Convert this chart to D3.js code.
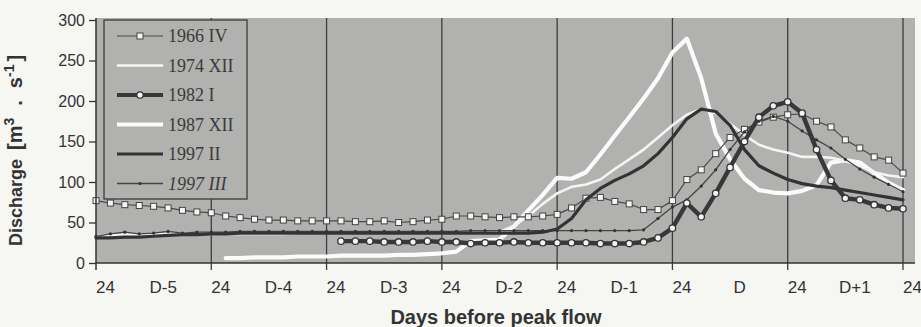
<!DOCTYPE html>
<html>
<head>
<meta charset="utf-8">
<script src="https://cdn.jsdelivr.net/npm/d3@7"></script>
<style>
  body { margin: 0; background: #f6f6f3; }
  svg { display: block; }
</style>
</head>
<body>
<div id="chart"></div>
<script>
// hours counted from the "24" mark at the left edge (end of D-6)
const hours = [0,3,6,9,12,15,18,21,24,27,30,33,36,39,42,45,48,51,54,57,60,63,66,69,72,75,78,81,84,87,90,93,96,99,102,105,108,111,114,117,120,123,126,129,132,135,138,141,144,147,150,153,156,159,162,165,168];

const s1966IV = [77,74,72,71,70,68,65,63,62,58,56,54,53,53,52,52,52,52,51,51,52,50,51,53,54,58,58,57,56,57,57,58,60,68,80,81,76,73,66,66,77,103,115,135,155,165,174,180,183,184,175,168,152,142,131,127,111];
const s1974XII = [33,34,35,35,35,36,36,36,36,36,36,36,36,36,37,37,37,37,37,37,37,37,37,37,37,37,37,37,38,46,58,73,86,94,97,103,116,128,140,155,170,183,190,185,172,158,146,140,136,131,131,130,126,120,112,108,106];
const s1982I = [null,null,null,null,null,null,null,null,null,null,null,null,null,null,null,null,null,27,27,27,26,26,26,27,26,26,24,25,25,26,25,25,25,25,25,24,24,24,26,31,43,74,57,86,118,150,180,194,199,185,140,102,80,78,72,68,67];
const s1987XII = [null,null,null,null,null,null,null,null,null,6,6,7,7,7,8,8,8,9,9,9,9,10,10,11,12,14,27,28,29,45,65,84,105,104,112,134,157,180,203,228,260,277,228,160,128,104,90,87,86,89,96,124,127,124,111,99,90];
const s1997II = [31,31,32,32,33,34,35,35,36,36,37,37,37,37,37,37,37,37,37,37,37,37,37,37,37,37,37,37,37,37,37,38,42,55,78,92,102,110,120,135,155,178,190,187,170,140,120,111,103,98,95,93,90,87,84,81,78];
const s1997III = [33,36,38,36,37,39,37,38,38,38,39,39,39,39,39,39,39,39,39,39,39,39,39,39,39,39,40,40,40,40,40,40,40,40,40,40,40,40,41,55,69,78,95,115,140,162,175,181,175,163,152,142,128,116,106,97,88];

const legendNames = ["1966 IV", "1974 XII", "1982 I", "1987 XII", "1997 II", "1997 III"];
const yTicks = [0, 50, 100, 150, 200, 250, 300];
const dayLines = [24, 48, 72, 96, 120, 144, 168];
const xLabelHours = [0,12,24,36,48,60,72,84,96,108,120,132,144,156,168];
const xLabels = ["24","D-5","24","D-4","24","D-3","24","D-2","24","D-1","24","D","24","D+1","24"];

const W = 921, H = 327;
const svg = d3.select("#chart").append("svg").attr("width", W).attr("height", H);

const x = d3.scaleLinear().domain([0, 168]).range([96, 903]);
const y = d3.scaleLinear().domain([0, 300]).range([263, 20]);

// plot background
svg.append("rect")
  .attr("x", 96).attr("y", 18).attr("width", 915 - 96).attr("height", 263 - 18)
  .attr("fill", "#b1b1af");

// day separators (run through plot and below axis as ticks)
svg.append("g").selectAll("line").data(dayLines).enter().append("line")
  .attr("x1", d => x(d)).attr("x2", d => x(d))
  .attr("y1", 18).attr("y2", 270)
  .attr("stroke", "#3c3c3c").attr("stroke-width", 1.3);

const series = [
  { name: "1987 XII", values: s1987XII, color: "#fbfbfb", width: 4.2 },
  { name: "1974 XII", values: s1974XII, color: "#f4f4f4", width: 2.6 },
  { name: "1966 IV", values: s1966IV, color: "#4a4a4a", width: 1.2, marker: "square" },
  { name: "1997 III", values: s1997III, color: "#444", width: 1.3, marker: "dot" },
  { name: "1997 II", values: s1997II, color: "#333", width: 3.2 },
  { name: "1982 I", values: s1982I, color: "#383838", width: 4.4, marker: "circle" }
];

const line = d3.line()
  .defined(d => d.v != null)
  .x(d => x(d.h)).y(d => y(d.v));

series.forEach(s => {
  const pts = hours.map((h, i) => ({ h: h, v: s.values[i] }));
  svg.append("path").datum(pts)
    .attr("d", line)
    .attr("fill", "none")
    .attr("stroke", s.color)
    .attr("stroke-width", s.width)
    .attr("stroke-linejoin", "round")
    .attr("stroke-linecap", "round");
  const real = pts.filter(d => d.v != null);
  if (s.marker === "square") {
    svg.append("g").selectAll("rect").data(real).enter().append("rect")
      .attr("x", d => x(d.h) - 3).attr("y", d => y(d.v) - 3)
      .attr("width", 6).attr("height", 6)
      .attr("fill", "#f4f4f4").attr("stroke", "#444").attr("stroke-width", 1);
  } else if (s.marker === "circle") {
    svg.append("g").selectAll("circle").data(real).enter().append("circle")
      .attr("cx", d => x(d.h)).attr("cy", d => y(d.v)).attr("r", 3.2)
      .attr("fill", "#f4f4f4").attr("stroke", "#333").attr("stroke-width", 1.3);
  } else if (s.marker === "dot") {
    svg.append("g").selectAll("circle").data(real).enter().append("circle")
      .attr("cx", d => x(d.h)).attr("cy", d => y(d.v)).attr("r", 1.6)
      .attr("fill", "#333");
  }
});

// legend
const lg = svg.append("g");
lg.append("rect")
  .attr("x", 104).attr("y", 20).attr("width", 143).attr("height", 179)
  .attr("fill", "#b1b1af").attr("stroke", "#444").attr("stroke-width", 1.4);
const legendStyle = {
  "1966 IV": { color: "#4a4a4a", width: 1.2, marker: "square" },
  "1974 XII": { color: "#f4f4f4", width: 2.4 },
  "1982 I": { color: "#383838", width: 4.2, marker: "circle" },
  "1987 XII": { color: "#fbfbfb", width: 4 },
  "1997 II": { color: "#333", width: 3.2 },
  "1997 III": { color: "#444", width: 1.3, marker: "dot" }
};
legendNames.forEach((n, i) => {
  const st = legendStyle[n];
  const ly = 36 + i * 29.5;
  lg.append("line").attr("x1", 117).attr("x2", 163).attr("y1", ly).attr("y2", ly)
    .attr("stroke", st.color).attr("stroke-width", st.width);
  if (st.marker === "square") {
    lg.append("rect").attr("x", 140 - 3).attr("y", ly - 3).attr("width", 6).attr("height", 6)
      .attr("fill", "#f4f4f4").attr("stroke", "#444");
  } else if (st.marker === "circle") {
    lg.append("circle").attr("cx", 140).attr("cy", ly).attr("r", 3.2)
      .attr("fill", "#f4f4f4").attr("stroke", "#333").attr("stroke-width", 1.3);
  } else if (st.marker === "dot") {
    lg.append("circle").attr("cx", 140).attr("cy", ly).attr("r", 1.6).attr("fill", "#333");
  }
  lg.append("text").attr("x", 168).attr("y", ly + 6)
    .attr("font-family", "'Liberation Serif', 'Times New Roman', serif")
    .attr("font-size", 18)
    .attr("font-style", n === "1997 III" ? "italic" : "normal")
    .attr("fill", "#3a3a3a")
    .text(n);
});

// y axis
const yAxis = svg.append("g").attr("transform", "translate(96,0)")
  .call(d3.axisLeft(y).tickValues(yTicks).tickSize(7).tickPadding(4));
yAxis.select(".domain").remove();
yAxis.selectAll(".tick line").attr("stroke", "#333").attr("stroke-width", 1.3);
yAxis.selectAll(".tick text")
  .attr("font-family", "Arial, 'Liberation Sans', sans-serif")
  .attr("font-size", 16).attr("fill", "#333");
svg.append("line").attr("x1", 96).attr("x2", 96).attr("y1", 18).attr("y2", 270)
  .attr("stroke", "#333").attr("stroke-width", 1.5);

// x axis
const xAxis = svg.append("g").attr("transform", "translate(0,263)")
  .call(d3.axisBottom(x).tickValues(xLabelHours).tickSize(0).tickPadding(18)
    .tickFormat((d, i) => xLabels[i]));
xAxis.select(".domain").remove();
xAxis.selectAll(".tick text")
  .attr("dx", 9)
  .attr("font-family", "Arial, 'Liberation Sans', sans-serif")
  .attr("font-size", 17).attr("fill", "#333");
svg.append("line").attr("x1", 96).attr("x2", 915).attr("y1", 263).attr("y2", 263)
  .attr("stroke", "#333").attr("stroke-width", 1.5);

// titles
const yTitle = svg.append("text")
  .attr("transform", "translate(22,246) rotate(-90)")
  .attr("font-family", "Arial, 'Liberation Sans', sans-serif")
  .attr("font-size", 18).attr("font-weight", "bold").attr("fill", "#333");
yTitle.append("tspan").text("Discharge");
yTitle.append("tspan").attr("dx", 9).attr("font-size", 20).text("[m");
yTitle.append("tspan").attr("baseline-shift", "super").attr("font-size", 14).text("3");
yTitle.append("tspan").attr("dx", 12).attr("font-size", 20).text(".");
yTitle.append("tspan").attr("dx", 12).attr("font-size", 20).text("s");
yTitle.append("tspan").attr("baseline-shift", "super").attr("font-size", 14).text("-1");
yTitle.append("tspan").attr("dx", 3).attr("font-size", 20).text("]");

svg.append("text")
  .attr("x", 496).attr("y", 324)
  .attr("text-anchor", "middle")
  .attr("font-family", "Arial, 'Liberation Sans', sans-serif")
  .attr("font-size", 20).attr("font-weight", "bold").attr("fill", "#333")
  .text("Days before peak flow");
</script>
</body>
</html>
